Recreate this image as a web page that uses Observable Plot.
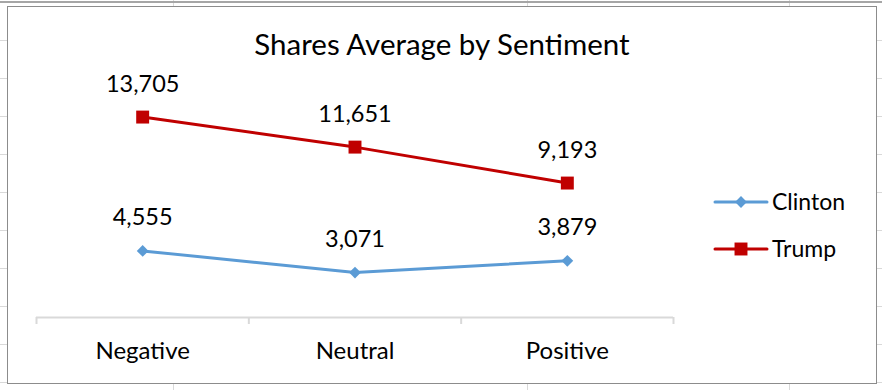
<!DOCTYPE html>
<html><head><meta charset="utf-8">
<script src="https://cdn.jsdelivr.net/npm/d3@7"></script>
<script src="https://cdn.jsdelivr.net/npm/@observablehq/plot@0.6"></script>
<style>
body{margin:0;background:#fff;font-family:Lato,sans-serif}
#page{position:relative;width:882px;height:390px;overflow:hidden;background:#fff;
 background-image:repeating-linear-gradient(to bottom,#d9d9d9 0 1px,transparent 1px 38px);
 background-position:0 2px;}
.vline{position:absolute;top:0;bottom:0;width:1px;background:#d9d9d9}
#topline{position:absolute;left:0;right:0;top:1px;height:2px;background:#a6a6a6}
#box{position:absolute;left:7px;top:6px;width:870px;height:378px;box-sizing:border-box;border:1px solid #8c8c8c;background:#fff}
#box svg{position:absolute;left:0;top:0}
#title{position:absolute;left:0;width:868px;top:22px;text-align:center;font-size:29.5px;line-height:30px;color:#000;white-space:nowrap}
.leg{position:absolute;font-size:23px;line-height:23px;color:#000;white-space:nowrap}
.legicon{position:absolute}
</style></head>
<body>
<div id="page">
  <div class="vline" style="left:173px"></div>
  <div class="vline" style="left:527px"></div>
  <div class="vline" style="left:789px"></div>
  <div id="topline"></div>
  <div id="box">
    <div id="title"></div>
    <div id="legend"></div>
  </div>
</div>
<script>
const categories = ["Negative", "Neutral", "Positive"];
const seriesNames = ["Clinton", "Trump"];
const clintonValues = [4555, 3071, 3879];
const trumpValues = [13705, 11651, 9193];
const seriesColors = ["#5b9bd5", "#c00000"];
const seriesSymbols = ["diamond2", "square"];
const titleText = "Shares Average by Sentiment";

const rowsFor = (name, vals) => vals.map((v, i) => ({series: name, i, cat: categories[i], v}));
const clintonRows = rowsFor(seriesNames[0], clintonValues);
const trumpRows = rowsFor(seriesNames[1], trumpValues);
const fmt = d3.format(",");

const boundaries = d3.range(categories.length + 1).map(i => i - 0.5);
const centers = d3.range(categories.length);

const chart = Plot.plot({
  width: 868,
  height: 376,
  marginLeft: 28,
  marginRight: 203,
  marginTop: 76,
  marginBottom: 66,
  style: {fontFamily: "Lato, sans-serif", color: "#000", background: "transparent"},
  x: {domain: [-0.5, categories.length - 0.5], label: null},
  y: {domain: [0, 16000], axis: null, label: null},
  marks: [
    Plot.ruleY([0], {stroke: "#d9d9d9", strokeWidth: 2}),
    Plot.axisX(boundaries, {tickSize: 7, tickFormat: () => "", stroke: "#d9d9d9", strokeWidth: 2, label: null}),
    Plot.axisX(centers, {tickSize: 0, tickPadding: 24, tickFormat: i => categories[i], fontSize: 24, label: null}),
    Plot.line(clintonRows, {x: "i", y: "v", stroke: seriesColors[0], strokeWidth: 3}),
    Plot.dot(clintonRows, {x: "i", y: "v", symbol: seriesSymbols[0], r: 5.3, fill: seriesColors[0]}),
    Plot.line(trumpRows, {x: "i", y: "v", stroke: seriesColors[1], strokeWidth: 3}),
    Plot.dot(trumpRows, {x: "i", y: "v", symbol: seriesSymbols[1], r: 7.3, fill: seriesColors[1]}),
    Plot.text([...clintonRows, ...trumpRows], {x: "i", y: "v", text: d => fmt(d.v), dy: -33, fontSize: 23.5, fill: "#000"})
  ]
});
document.getElementById("box").appendChild(chart);
document.getElementById("title").textContent = titleText;

// legend
const legend = document.getElementById("legend");
const legTops = [187, 234];
seriesNames.forEach((name, k) => {
  const svg = d3.create("svg").attr("class", "legicon").attr("width", 56).attr("height", 16)
    .style("left", "705px").style("top", legTops[k] + "px");
  svg.append("line").attr("x1", 2).attr("x2", 54).attr("y1", 8).attr("y2", 8)
    .attr("stroke", seriesColors[k]).attr("stroke-width", 3).attr("stroke-linecap", "round");
  const sym = seriesSymbols[k] === "square" ? d3.symbolSquare : d3.symbolDiamond2;
  const size = k === 1 ? Math.PI * 7.3 * 7.3 : Math.PI * 5.3 * 5.3;
  svg.append("path").attr("transform", "translate(28,8)").attr("d", d3.symbol(sym, size)())
    .attr("fill", seriesColors[k]);
  legend.appendChild(svg.node());
  const span = document.createElement("div");
  span.className = "leg";
  span.style.left = "764px";
  span.style.top = (legTops[k] - 4) + "px";
  span.textContent = name;
  legend.appendChild(span);
});
</script>
</body></html>
